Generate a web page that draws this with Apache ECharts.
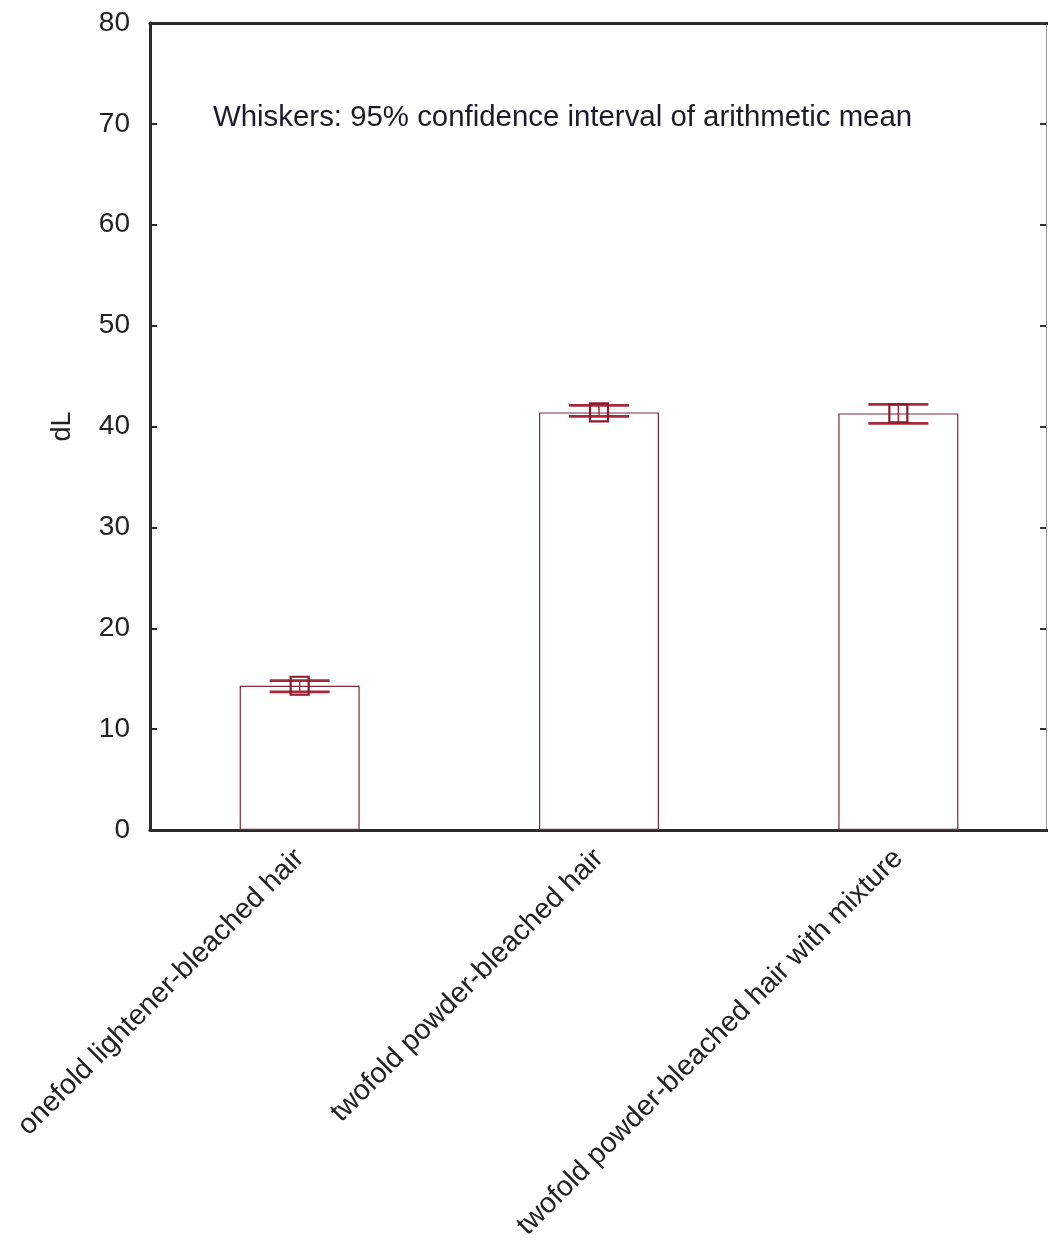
<!DOCTYPE html>
<html>
<head>
<meta charset="utf-8">
<script src="https://cdn.jsdelivr.net/npm/echarts@6/dist/echarts.min.js"></script>
<style>html,body{margin:0;padding:0;background:#fff;}#c{width:1048px;height:1247px;}</style>
</head>
<body>
<div id="c"></div>
<script>
const categories = ['onefold lightener-bleached hair', 'twofold powder-bleached hair', 'twofold powder-bleached hair with mixture'];
const means = [14.3, 41.4, 41.3];
const lower = [13.7, 41.0, 40.3];
const upper = [14.8, 42.1, 42.2];
const yTicks = [0, 10, 20, 30, 40, 50, 60, 70, 80];
const noteText = 'Whiskers: 95% confidence interval of arithmetic mean';
const yName = 'dL';

const FONT = '"Liberation Sans", Arial, sans-serif';
const chart = echarts.init(document.getElementById('c'), null, {renderer: 'canvas'});
const errData = categories.map((c, i) => [i, means[i], lower[i], upper[i]]);

chart.setOption({
  animation: false,
  backgroundColor: '#fff',
  textStyle: {fontFamily: FONT},
  title: {
    text: noteText, left: 208, top: 98,
    textStyle: {fontFamily: FONT, fontSize: 29.4, fontWeight: 'normal', color: '#1a1a2a'}
  },
  grid: {left: 150, top: 23, width: 900, height: 807, containLabel: false},
  xAxis: [{
    type: 'category', data: categories, position: 'bottom',
    axisLine: {onZero: false, lineStyle: {color: '#2a2a2a', width: 3}},
    axisTick: {inside: true, alignWithLabel: true, length: 7, lineStyle: {color: '#2a2a2a', width: 2}},
    axisLabel: {rotate: 45, fontSize: 28.5, color: '#222', margin: 24, fontFamily: FONT, interval: 0}
  }, {
    type: 'category', data: categories, position: 'top',
    axisLine: {onZero: false, lineStyle: {color: '#2a2a2a', width: 3}},
    axisTick: {inside: true, alignWithLabel: true, length: 6, lineStyle: {color: '#2a2a2a', width: 2}},
    axisLabel: {show: false}
  }],
  yAxis: [{
    type: 'value', min: 0, max: 80, interval: 10, position: 'left',
    name: yName, nameLocation: 'middle', nameGap: 74, nameRotate: 90,
    nameTextStyle: {fontSize: 27, color: '#222', fontFamily: FONT},
    axisLine: {show: true, onZero: false, lineStyle: {color: '#2a2a2a', width: 3}},
    axisTick: {show: true, inside: true, length: 7, lineStyle: {color: '#2a2a2a', width: 2}},
    axisLabel: {fontSize: 28, color: '#222', margin: 20, fontFamily: FONT,
      formatter: v => yTicks.includes(v) ? String(v) : ''},
    splitLine: {show: false}
  }, {
    type: 'value', min: 0, max: 80, interval: 10, position: 'right', offset: -2,
    axisLine: {show: true, onZero: false, lineStyle: {color: '#999', width: 1}},
    axisTick: {show: true, inside: true, length: 6, lineStyle: {color: '#333', width: 2}},
    axisLabel: {show: false},
    splitLine: {show: false}
  }],
  series: [{
    type: 'bar', data: means, barWidth: 120,
    itemStyle: {color: '#fff', borderColor: '#7d2a3c', borderWidth: 1.2},
    z: 2
  }, {
    type: 'custom', data: errData, z: 5,
    renderItem: function (params, api) {
      const x = api.value(0);
      const pm = api.coord([x, api.value(1)]);
      const pl = api.coord([x, api.value(2)]);
      const pu = api.coord([x, api.value(3)]);
      const cx = pm[0];
      const hw = 30, bs = 9;
      const wStyle = {stroke: '#a8283c', lineWidth: 2.8};
      return {
        type: 'group',
        children: [
          {type: 'line', shape: {x1: cx - hw, y1: pu[1], x2: cx + hw, y2: pu[1]}, style: wStyle},
          {type: 'line', shape: {x1: cx - hw, y1: pl[1], x2: cx + hw, y2: pl[1]}, style: wStyle},
          {type: 'line', shape: {x1: cx, y1: pu[1], x2: cx, y2: pl[1]}, style: {stroke: '#a8283c', lineWidth: 1.5}},
          {type: 'rect', shape: {x: cx - bs, y: pm[1] - bs, width: 2 * bs, height: 2 * bs},
            style: {fill: 'rgba(0,0,0,0)', stroke: '#8b1a2c', lineWidth: 2.2}}
        ]
      };
    }
  }]
});
</script>
</body>
</html>
